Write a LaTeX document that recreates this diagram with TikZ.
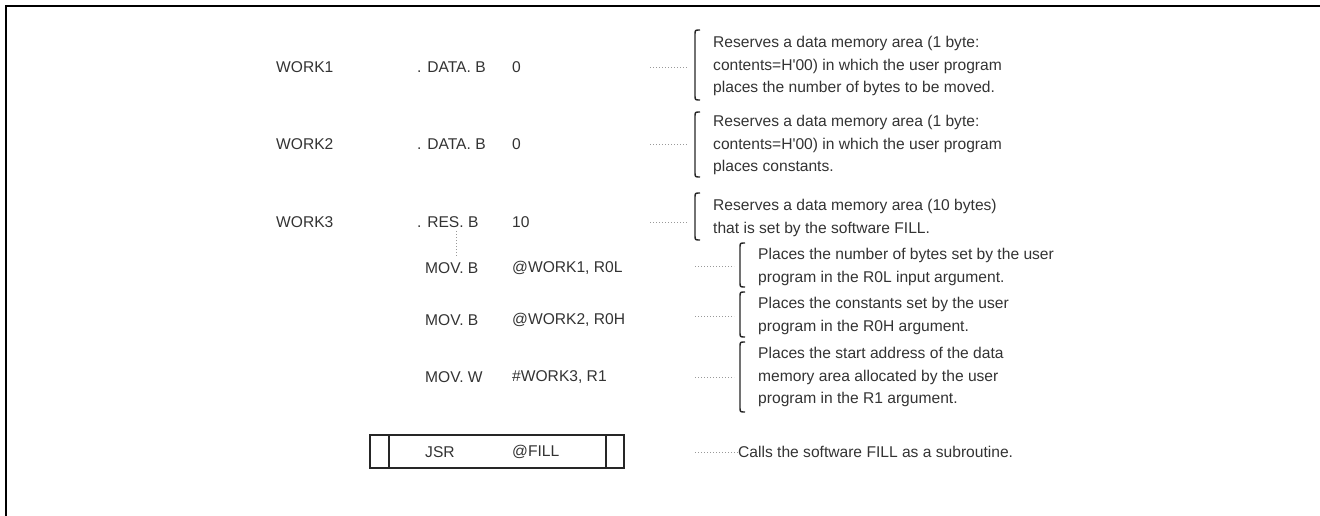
\documentclass[tikz,border=0pt]{standalone}
\usepackage{fontspec}
\setmainfont{Liberation Sans}
\begin{document}
\begin{tikzpicture}[x=1pt,y=-1pt,
  txt/.style={font=\fontsize{15.6}{22.8}\selectfont, inner sep=0pt, anchor=west, align=left, text=black!80},
  lead/.style={line width=0.9pt, dash pattern=on 1pt off 2pt, gray!80},
  brk/.style={line width=1.4pt, black!85},
  frame/.style={line width=2pt},
  jsrbox/.style={line width=1.5pt, black!85}]
\useasboundingbox (0,0) rectangle (1320,516);
% frame
\draw[frame] (6,516) -- (6,6) -- (1320,6);

% left column rows
\node[txt] (w1)  at (276,67) {WORK1};
\node[txt] (d1)  at (417,67) {. DATA. B};
\node[txt] (o1)  at (512,67) {0};
\node[txt] (w2)  at (276,144) {WORK2};
\node[txt] (d2)  at (417,144) {. DATA. B};
\node[txt] (o2)  at (512,144) {0};
\node[txt] (w3)  at (276,222) {WORK3};
\node[txt] (d3)  at (417,222) {. RES. B};
\node[txt] (o3)  at (512,222) {10};
\node[txt] (m1)  at (425,268) {MOV. B};
\node[txt] (p1)  at (512,268) {@WORK1, R0L};
\node[txt] (m2)  at (425,320) {MOV. B};
\node[txt] (p2)  at (512,320) {@WORK2, R0H};
\node[txt] (m3)  at (425,377) {MOV. W};
\node[txt] (p3)  at (512,377) {\#WORK3, R1};

% vertical dotted continuation
\coordinate (vtop) at (456,231);
\coordinate (vbot) at (456,256);
\draw[lead] (vtop) -- (vbot);

% JSR box
\draw[jsrbox] (370,435) rectangle (624,468);
\draw[jsrbox] (389,435) -- (389,468);
\draw[jsrbox] (606,435) -- (606,468);
\node[txt] (jsr) at (425,452) {JSR};
\node[txt] (fill) at (512,452) {@FILL};

% descriptions
\node[txt] (t1) at (713,66) {Reserves a data memory area (1 byte:\\contents=H\textquotesingle 00) in which the user program\\places the number of bytes to be moved.};
\node[txt] (t2) at (713,145) {Reserves a data memory area (1 byte:\\contents=H\textquotesingle 00) in which the user program\\places constants.};
\node[txt] (t3) at (713,218) {Reserves a data memory area (10 bytes)\\that is set by the software FILL.};
\node[txt] (t4) at (758,267) {Places the number of bytes set by the user\\program in the R0L input argument.};
\node[txt] (t5) at (758,316) {Places the constants set by the user\\program in the R0H argument.};
\node[txt] (t6) at (758,377) {Places the start address of the data\\memory area allocated by the user\\program in the R1 argument.};
\node[txt] (t7) at (738,452) {Calls the software FILL as a subroutine.};

% brackets
\newcommand\mybrk[3]{\draw[brk] (#1+5,#2) .. controls (#1,#2) .. (#1,#2+5) -- (#1,#3-5) .. controls (#1,#3) .. (#1+5,#3);}
\mybrk{695}{30}{100}
\mybrk{695}{112}{177}
\mybrk{695}{193}{240}
\mybrk{740}{243}{287}
\mybrk{740}{292}{337}
\mybrk{740}{342}{412}

% dotted leaders
\coordinate (l1a) at (650,67);  \coordinate (l1b) at (688,67);
\coordinate (l2a) at (650,144); \coordinate (l2b) at (688,144);
\coordinate (l3a) at (650,222); \coordinate (l3b) at (688,222);
\coordinate (l4a) at (695,266); \coordinate (l4b) at (734,266);
\coordinate (l5a) at (695,316); \coordinate (l5b) at (734,316);
\coordinate (l6a) at (695,377); \coordinate (l6b) at (734,377);
\coordinate (l7a) at (695,452);
\draw[lead] (l1a) -- (l1b);
\draw[lead] (l2a) -- (l2b);
\draw[lead] (l3a) -- (l3b);
\draw[lead] (l4a) -- (l4b);
\draw[lead] (l5a) -- (l5b);
\draw[lead] (l6a) -- (l6b);
\draw[lead] (l7a) -- (t7.west);
\end{tikzpicture}
\end{document}
